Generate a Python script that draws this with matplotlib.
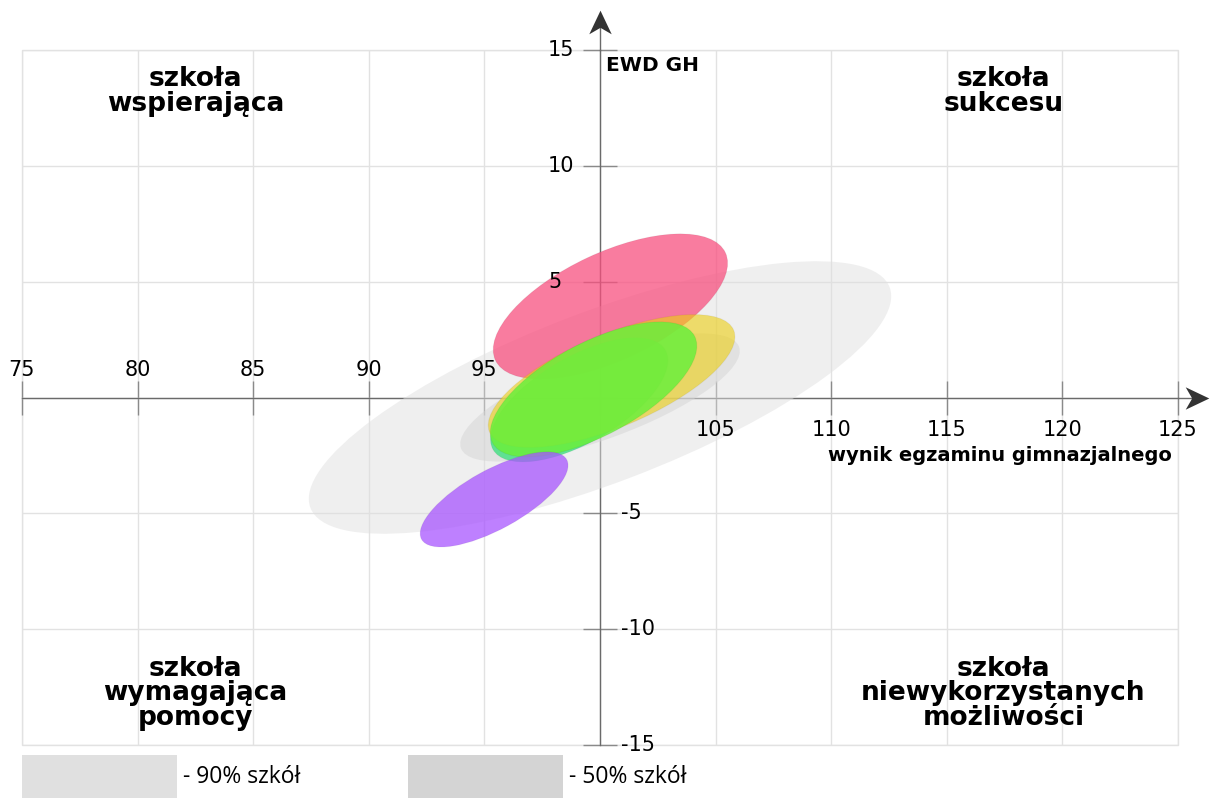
import matplotlib
matplotlib.use("Agg")
import matplotlib.pyplot as plt
from matplotlib.patches import Ellipse, Rectangle
from matplotlib.path import Path
from matplotlib.colors import to_rgba

# ---------------- data ----------------
x_ticks = [75, 80, 85, 90, 95, 100, 105, 110, 115, 120, 125]
y_ticks = [-15, -10, -5, 0, 5, 10, 15]
x_labels_above = [75, 80, 85, 90, 95]
x_labels_below = [105, 110, 115, 120, 125]
y_labels_left = [15, 10, 5]
y_labels_right = [-5, -10, -15]

# reference area ellipses (90% and 50% of schools)
ref_names = ["90% szkół", "50% szkół"]
ref_cx = [100.0, 100.0]
ref_cy = [0.0, 0.0]
ref_w = [26.8, 12.8]
ref_h = [7.4, 3.6]
ref_angle = [20.8, 20.0]
ref_colors = ["#e0e0e0", "#d4d4d4"]

# school ellipses
ell_cx = [100.45, 99.1, 100.5, 99.72, 95.42]
ell_cy = [3.93, -0.1, 0.71, 0.35, -4.40]
ell_w = [10.98, 8.6, 11.44, 9.88, 7.16]
ell_h = [4.65, 3.7, 4.0, 4.04, 2.56]
ell_angle = [25.0, 30.0, 22.6, 27.8, 28.7]
ell_colors = ["#f8507f", "#40e080", "#edcf11", "#6aef3c", "#a855ff"]
ell_alpha = [0.75, 0.8, 0.6, 0.85, 0.75]

quadrant_texts = ["szkoła\nwspierająca", "szkoła\nsukcesu",
                  "szkoła\nwymagająca\npomocy", "szkoła\nniewykorzystanych\nmożliwości"]
quadrant_x = [82.5, 117.45, 82.5, 117.45]
quadrant_y = [14.3, 14.3, -11.15, -11.15]

# ---------------- figure ----------------
fig = plt.figure(figsize=(12.1, 7.98), dpi=100)
ax = fig.add_axes([22 / 1210, 53 / 798, 1156 / 1210, 695 / 798])
ax.set_xlim(75, 125)
ax.set_ylim(-15, 15)

ax.set_xticks(x_ticks)
ax.set_yticks(y_ticks)
ax.grid(True, color="#e2e2e2", lw=1.0, zorder=0)
ax.set_axisbelow(True)

for s in ["top", "right"]:
    ax.spines[s].set_visible(False)
ax.spines["left"].set_position(("data", 100))
ax.spines["bottom"].set_position(("data", 0))
for s in ["left", "bottom"]:
    ax.spines[s].set_color("#6a6a6a")
    ax.spines[s].set_linewidth(1.0)
    ax.spines[s].set_zorder(1)
ax.tick_params(direction="inout", length=24, width=1.0, color="#8a8a8a",
               labelbottom=False, labelleft=False)

# frame
ax.add_patch(Rectangle((0, 0), 1, 1, transform=ax.transAxes, fill=False,
                       edgecolor="#e2e2e2", lw=1.0, clip_on=False, zorder=0))

# reference ellipses
for cx, cy, w, h, a, c in zip(ref_cx, ref_cy, ref_w, ref_h, ref_angle, ref_colors):
    ax.add_patch(Ellipse((cx, cy), w, h, angle=a, facecolor=to_rgba(c, 0.5),
                         edgecolor="none", zorder=2))

# school ellipses
for i, (cx, cy, w, h, a, c, al) in enumerate(zip(ell_cx, ell_cy, ell_w, ell_h,
                                                  ell_angle, ell_colors, ell_alpha)):
    ax.add_patch(Ellipse((cx, cy), w, h, angle=a, facecolor=to_rgba(c, al),
                         edgecolor=(0, 0, 0, 0.04), lw=0.8, zorder=3 + i))

# axis arrows (shaft + stealth head)
ax.plot([125, 126.0], [0, 0], color="#6a6a6a", lw=1.0, clip_on=False, zorder=1)
ax.plot([100, 100], [15, 16.0], color="#6a6a6a", lw=1.0, clip_on=False, zorder=1)
head_r = Path([(1, 0), (-1, 0.95), (-0.45, 0), (-1, -0.95), (1, 0)],
              [Path.MOVETO, Path.LINETO, Path.LINETO, Path.LINETO, Path.CLOSEPOLY])
head_u = Path([(0, 1), (0.95, -1), (0, -0.45), (-0.95, -1), (0, 1)],
              [Path.MOVETO, Path.LINETO, Path.LINETO, Path.LINETO, Path.CLOSEPOLY])
ax.plot([125.84], [0], marker=head_r, markersize=17, color="#333333",
        markeredgewidth=0, clip_on=False, zorder=10)
ax.plot([100], [16.19], marker=head_u, markersize=17, color="#333333",
        markeredgewidth=0, clip_on=False, zorder=10)

# tick labels
tick_fs = 15
for v in x_labels_above:
    ax.annotate(str(v), xy=(v, 0), xytext=(0, 27), textcoords="offset pixels",
                ha="center", va="center", fontsize=tick_fs, annotation_clip=False)
for v in x_labels_below:
    ax.annotate(str(v), xy=(v, 0), xytext=(0, -33), textcoords="offset pixels",
                ha="center", va="center", fontsize=tick_fs, annotation_clip=False)
for v in y_labels_left:
    ax.annotate(str(v), xy=(100, v), xytext=(-52, 0), textcoords="offset pixels",
                ha="left", va="center", fontsize=tick_fs, annotation_clip=False)
for v in y_labels_right:
    ax.annotate(str(v), xy=(100, v), xytext=(21, 0), textcoords="offset pixels",
                ha="left", va="center", fontsize=tick_fs, annotation_clip=False)

# axis titles
ax.text(100.26, 14.75, "EWD GH", fontsize=14.5, fontweight="bold", ha="left", va="top",
        zorder=12)
ax.text(124.75, -2.5, "wynik egzaminu gimnazjalnego", fontsize=14, fontweight="bold",
        ha="right", va="center", zorder=12)

# quadrant labels
for t, x, y in zip(quadrant_texts, quadrant_x, quadrant_y):
    ax.text(x, y, t, fontsize=19, fontweight="bold", ha="center", va="top",
            linespacing=0.92, zorder=12)

# legend boxes
legend_x = [22 / 1210, 408 / 1210]
for lx, c, name in zip(legend_x, ref_colors, ref_names):
    fig.patches.append(Rectangle((lx, 0), 155 / 1210, 43 / 798, transform=fig.transFigure,
                                 facecolor=c, edgecolor="none"))
    fig.text(lx + 161 / 1210, 21 / 798, "- " + name, fontsize=16.5, family="Open Sans",
             ha="left", va="center")

fig.savefig("out.png", dpi=100)
